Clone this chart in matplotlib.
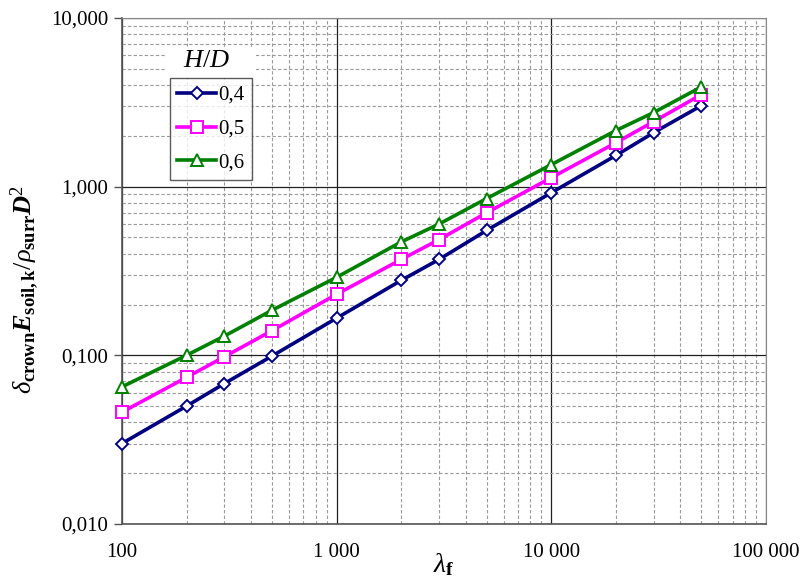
import matplotlib
matplotlib.use("Agg")
import matplotlib.pyplot as plt
from matplotlib.ticker import FixedLocator, FixedFormatter, LogLocator, NullFormatter
from matplotlib.patches import Rectangle

plt.rcParams['font.family'] = ['Liberation Serif', 'DejaVu Serif']
plt.rcParams['mathtext.fontset'] = 'custom'
plt.rcParams['mathtext.rm'] = 'Liberation Serif'
plt.rcParams['mathtext.it'] = 'Liberation Serif:italic'
plt.rcParams['mathtext.bf'] = 'Liberation Serif:bold'
plt.rcParams['mathtext.bfit'] = 'Liberation Serif:bold:italic'

lam = [100, 200, 300, 500, 1000, 2000, 3000, 5000, 10000, 20000, 30000, 50000]
hd_04 = [0.030, 0.050, 0.068, 0.099, 0.166, 0.278, 0.37, 0.55, 0.92, 1.53, 2.09, 3.02]
hd_05 = [0.046, 0.074, 0.098, 0.140, 0.230, 0.370, 0.485, 0.70, 1.13, 1.82, 2.43, 3.51]
hd_06 = [0.065, 0.100, 0.130, 0.185, 0.290, 0.470, 0.600, 0.85, 1.35, 2.15, 2.75, 3.90]
series_labels = ['0,4', '0,5', '0,6']
colors = ['#000080', '#FF00FF', '#008000']
markers = ['D', 's', '^']
msizes = [6, 9, 9]

xticks = [100, 1000, 10000, 100000]
xticklabels = ['100', '1 000', '10 000', '100 000']
yticks = [0.01, 0.1, 1, 10]
yticklabels = ['0,010', '0,100', '1,000', '10,000']

fig = plt.figure(figsize=(8.02, 5.79), dpi=100)
ax = fig.add_axes([0.152, 0.095, 0.803, 0.874])
ax.set_xscale('log')
ax.set_yscale('log')
ax.set_xlim(100, 100000)
ax.set_ylim(0.01, 10)

handles = []
for ys, c, m, ms, lab in zip([hd_04, hd_05, hd_06], colors, markers, msizes, series_labels):
    h, = ax.plot(lam, ys, color=c, lw=2.6, marker=m, ms=ms, mfc='white', mec=c,
                 mew=1.4, label=lab, zorder=3, clip_on=False)
    handles.append(h)

ax.xaxis.set_major_locator(FixedLocator(xticks))
ax.xaxis.set_major_formatter(FixedFormatter(xticklabels))
ax.yaxis.set_major_locator(FixedLocator(yticks))
ax.yaxis.set_major_formatter(FixedFormatter(yticklabels))
ax.xaxis.set_minor_locator(LogLocator(base=10, subs=range(2, 10)))
ax.yaxis.set_minor_locator(LogLocator(base=10, subs=range(2, 10)))
ax.xaxis.set_minor_formatter(NullFormatter())
ax.yaxis.set_minor_formatter(NullFormatter())

ax.grid(which='major', color='#202020', lw=0.9, ls='-', zorder=1)
ax.grid(which='minor', color='#999999', lw=0.8, ls=(0, (3, 2)), zorder=1)
ax.set_axisbelow(True)

ax.tick_params(axis='x', which='both', length=0, pad=14, labelsize=15)
ax.tick_params(axis='y', which='major', length=6, width=1, color='#555555', labelsize=15, pad=4)
ax.tick_params(axis='y', which='minor', length=0)

for s in ['top', 'right']:
    ax.spines[s].set_color('#888888')
for s in ['left', 'bottom']:
    ax.spines[s].set_color('#555555')
    ax.spines[s].set_linewidth(1.2)

ax.set_xlabel(r'$\lambda_{\mathbf{f}}$', fontsize=20, labelpad=-8)
ax.set_ylabel(r'$\delta_{\mathbf{crown}}\mathbfit{E}_{\mathbf{soil,k}}/\rho_{\mathbf{surr}}\mathbfit{D}^{2}$',
              fontsize=19)
ax.yaxis.set_label_coords(-0.126, 0.462)

# white background behind the legend title
ax.add_patch(Rectangle((0.067, 0.881), 0.141, 0.06, transform=ax.transAxes,
                       facecolor='white', edgecolor='none', zorder=2))

leg = ax.legend(handles=handles, loc='upper left', bbox_to_anchor=(0.074, 0.881),
                fontsize=15, frameon=True, fancybox=False, edgecolor='#333333',
                handlelength=1.9, handletextpad=0.1, borderpad=0.35, labelspacing=0.68,
                borderaxespad=0)
leg.get_frame().set_linewidth(1.0)
ax.text(0.132, 0.915, r'$H/D$', transform=ax.transAxes, fontsize=19,
        ha='center', va='center', zorder=5)

fig.savefig('out.png', dpi=100)
